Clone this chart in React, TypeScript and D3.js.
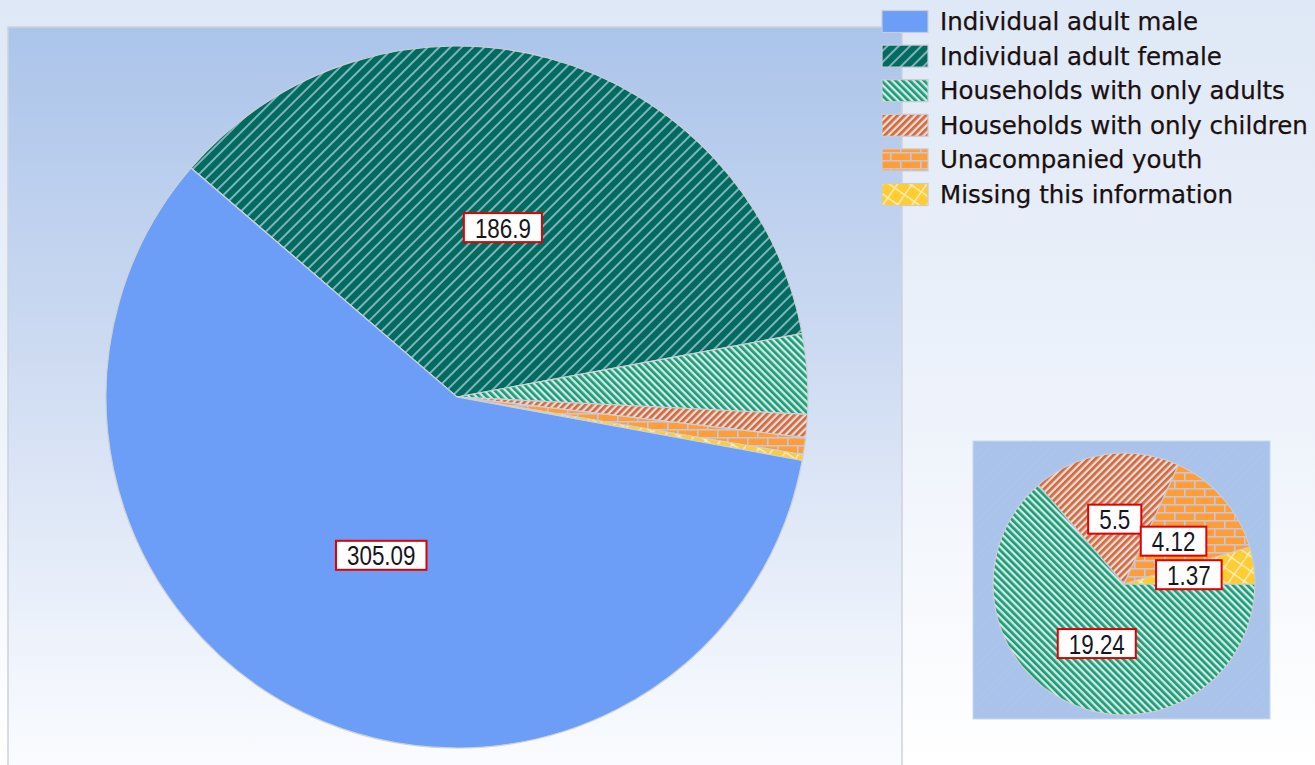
import React from "react";
import * as d3 from "d3";

const categories = [
  "Individual adult male",
  "Individual adult female",
  "Households with only adults",
  "Households with only children",
  "Unacompanied youth",
  "Missing this information",
];
const values = [305.09, 186.9, 19.24, 5.5, 4.12, 1.37];
const valueLabels = ["305.09", "186.9", "19.24", "5.5", "4.12", "1.37"];
const mainSlices = [1, 2, 3, 4, 5, 0]; // clockwise drawing order in main pie
const labeledMain = [0, 1];
const secondarySlices = [2, 3, 4, 5];
const patternIds = ["pMale", "pFemale", "pAdults", "pChildren", "pYouth", "pMissing"];

const W = 1315;
const H = 765;

const LABEL_FS = 28;
const LABEL_SX = 0.8;

function labelWidth(s: string) {
  let w = 0;
  for (const ch of s) w += ch === "." ? 0.278 : 0.556;
  return w * LABEL_FS * LABEL_SX;
}

function Label({ x, y, text }: { x: number; y: number; text: string }) {
  const tw = labelWidth(text);
  const bw = tw + 22;
  const bh = 29;
  return (
    <g transform={`translate(${x},${y})`}>
      <rect x={-bw / 2} y={-bh / 2} width={bw} height={bh} fill="#ffffff" stroke="#e00000" strokeWidth={2} />
      <g transform={`scale(${LABEL_SX},1)`}>
        <text
          x={0}
          y={10}
          textAnchor="middle"
          fontFamily="'Liberation Sans', Arial, sans-serif"
          fontSize={LABEL_FS}
          fill="#161622"
        >
          {text}
        </text>
      </g>
    </g>
  );
}

export default function App() {
  const total = d3.sum(values);
  const secSum = d3.sum(secondarySlices, (i) => values[i]);
  const tau = Math.PI * 2;
  const start = Math.PI / 2 - (Math.PI * secSum) / total - (tau * values[1]) / total;

  const bigC = { x: 457, y: 397 };
  const bigR = 351;
  const smallC = { x: 1124, y: 584 };
  const smallR = 131;

  const bigPie = d3
    .pie<number>()
    .sort(null)
    .value((i) => values[i])
    .startAngle(start)
    .endAngle(start + tau)(mainSlices);

  const smallPie = d3
    .pie<number>()
    .sort(null)
    .value((i) => values[i])
    .startAngle(Math.PI / 2)
    .endAngle(Math.PI / 2 + tau)(secondarySlices);

  const bigArc = d3.arc<d3.PieArcDatum<number>>().innerRadius(0).outerRadius(bigR);
  const smallArc = d3.arc<d3.PieArcDatum<number>>().innerRadius(0).outerRadius(smallR);

  const legendX = 882;
  const legendY0 = 10.5;
  const legendStep = 34.6;

  return (
    <svg
      width={W}
      height={H}
      style={{ position: "absolute", left: 0, top: 0, display: "block" }}
      xmlns="http://www.w3.org/2000/svg"
    >
      <defs>
        <linearGradient id="gOuter" x1="0" y1="0" x2="0" y2="1">
          <stop offset="0" stopColor="#dfe8f6" />
          <stop offset="0.55" stopColor="#eef3fb" />
          <stop offset="1" stopColor="#ffffff" />
        </linearGradient>
        <linearGradient id="gPlot" x1="0" y1="0" x2="0" y2="1">
          <stop offset="0" stopColor="#abc4ea" />
          <stop offset="0.45" stopColor="#cfdcf2" />
          <stop offset="0.8" stopColor="#edf2fb" />
          <stop offset="1" stopColor="#fcfdff" />
        </linearGradient>
        <pattern id="pBox" patternUnits="userSpaceOnUse" width="6" height="6" patternTransform="rotate(45)">
          <rect width="6" height="6" fill="#a9c3ea" />
          <line x1="3" y1="0" x2="3" y2="6" stroke="#adc6eb" strokeWidth="1" />
        </pattern>
        <pattern id="pMale" patternUnits="userSpaceOnUse" width="8" height="8">
          <rect width="8" height="8" fill="#6c9ef8" />
        </pattern>
        <pattern id="pFemale" patternUnits="userSpaceOnUse" width="8" height="8" patternTransform="rotate(45)">
          <rect width="8" height="8" fill="#016b60" />
          <line x1="4" y1="0" x2="4" y2="8" stroke="#b2d4e4" strokeWidth="1.4" />
        </pattern>
        <pattern id="pAdults" patternUnits="userSpaceOnUse" width="5" height="5" patternTransform="rotate(-45)">
          <rect width="5" height="5" fill="#d9e5ee" />
          <rect x="0" y="0" width="2.7" height="5" fill="#17a06f" />
        </pattern>
        <pattern id="pChildren" patternUnits="userSpaceOnUse" width="5" height="5" patternTransform="rotate(45)">
          <rect width="5" height="5" fill="#e6dcdc" />
          <rect x="0" y="0" width="2.7" height="5" fill="#d4693a" />
        </pattern>
        <pattern id="pYouth" patternUnits="userSpaceOnUse" width="20" height="16">
          <rect width="20" height="16" fill="#ff9d38" />
          <line x1="0" y1="0.8" x2="20" y2="0.8" stroke="#c7c6d8" strokeWidth="1.6" />
          <line x1="0" y1="8.8" x2="20" y2="8.8" stroke="#c7c6d8" strokeWidth="1.6" />
          <line x1="0.8" y1="0" x2="0.8" y2="8" stroke="#c7c6d8" strokeWidth="1.6" />
          <line x1="10.8" y1="8" x2="10.8" y2="16" stroke="#c7c6d8" strokeWidth="1.6" />
        </pattern>
        <pattern id="pMissing" patternUnits="userSpaceOnUse" width="12" height="12" patternTransform="rotate(35)">
          <rect width="12" height="12" fill="#ffcc33" />
          <line x1="0.7" y1="0" x2="0.7" y2="12" stroke="#fff0c0" strokeWidth="1.4" />
          <line x1="0" y1="0.7" x2="12" y2="0.7" stroke="#fff0c0" strokeWidth="1.4" />
        </pattern>
      </defs>

      <rect x={0} y={0} width={W} height={H} fill="url(#gOuter)" />
      <rect x={8} y={27} width={894} height={760} fill="url(#gPlot)" stroke="#cdd2da" strokeWidth={1.5} />

      {/* main pie */}
      <g transform={`translate(${bigC.x},${bigC.y})`}>
        {bigPie.map((a) => (
          <path
            key={a.data}
            d={bigArc(a) || ""}
            fill={`url(#${patternIds[a.data]})`}
            stroke="#ccd0d8"
            strokeWidth={1.2}
          />
        ))}
      </g>

      {/* secondary pie box */}
      <rect x={973} y={441} width={297} height={278} fill="url(#pBox)" stroke="#c8d7ef" strokeWidth={1} />
      <g transform={`translate(${smallC.x},${smallC.y})`}>
        {smallPie.map((a) => (
          <path
            key={a.data}
            d={smallArc(a) || ""}
            fill={`url(#${patternIds[a.data]})`}
            stroke="#c8ccd4"
            strokeWidth={1.2}
          />
        ))}
      </g>

      {/* labels */}
      {bigPie
        .filter((a) => labeledMain.includes(a.data))
        .map((a) => {
          const [cx, cy] = bigArc.centroid(a);
          return <Label key={"bl" + a.data} x={bigC.x + cx} y={bigC.y + cy} text={valueLabels[a.data]} />;
        })}
      {smallPie.map((a) => {
        const [cx, cy] = smallArc.centroid(a);
        return <Label key={"sl" + a.data} x={smallC.x + cx} y={smallC.y + cy} text={valueLabels[a.data]} />;
      })}

      {/* legend */}
      {categories.map((c, i) => {
        const y = legendY0 + i * legendStep;
        return (
          <g key={c}>
            <rect x={legendX} y={y} width={46} height={22} fill={`url(#${patternIds[i]})`} stroke="#c9ccd2" strokeWidth={1.2} />
            <text
              x={940}
              y={y + 19.5}
              fontFamily="'DejaVu Sans', Verdana, sans-serif"
              fontSize={24.5}
              fill="#1a1010"
              stroke="#1a1010"
              strokeWidth={0.25}
            >
              {c}
            </text>
          </g>
        );
      })}
    </svg>
  );
}
